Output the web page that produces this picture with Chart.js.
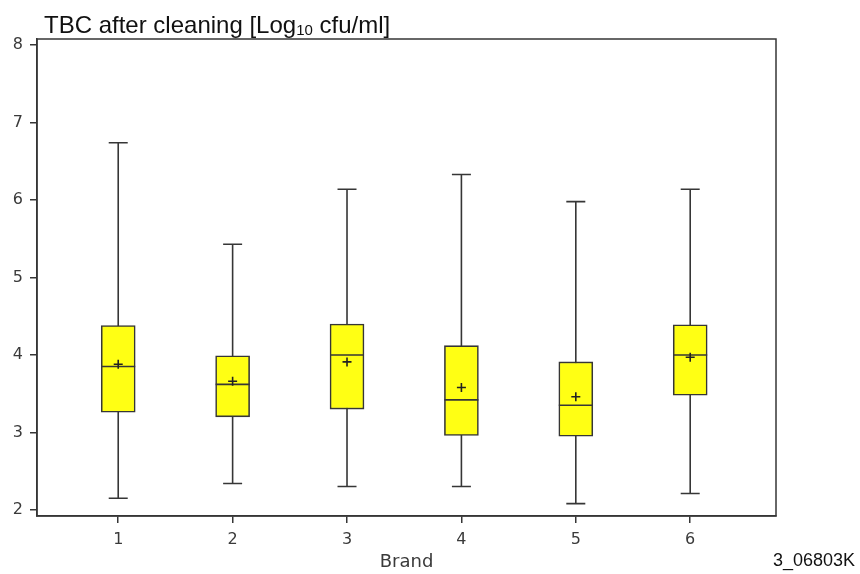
<!DOCTYPE html>
<html>
<head>
<meta charset="utf-8">
<title>TBC after cleaning</title>
<script src="https://cdn.jsdelivr.net/npm/chart.js@4/dist/chart.umd.min.js"></script>
<style>
  html, body { margin: 0; padding: 0; background: #fff; }
  canvas { display: block; }
</style>
</head>
<body>
<canvas id="boxChart" width="860" height="574"></canvas>
<script>
// Box summary per brand (log10 cfu/ml)
const brands = [1, 2, 3, 4, 5, 6];
const whiskerLow = [2.15, 2.34, 2.30, 2.30, 2.08, 2.21];
const q1 = [3.26, 3.20, 3.30, 2.96, 2.95, 3.48];
const median = [3.85, 3.62, 4.00, 3.42, 3.35, 4.00];
const mean = [3.88, 3.66, 3.91, 3.58, 3.46, 3.97];
const q3 = [4.38, 3.99, 4.40, 4.12, 3.91, 4.39];
const whiskerHigh = [6.74, 5.43, 6.14, 6.33, 5.98, 6.14];
const yTicks = [2, 3, 4, 5, 6, 7, 8];

const lineColor = "#363636";
const boxWidth = 34;
const capWidth = 19;

// whiskers behind the boxes, medians on top of them, frame and texts last
const boxParts = {
  id: "boxParts",
  beforeDatasetsDraw(chart) {
    const { ctx, scales: { x, y } } = chart;
    ctx.save();
    ctx.strokeStyle = lineColor;
    ctx.lineWidth = 1.6;
    brands.forEach((b, i) => {
      const px = x.getPixelForValue(b);
      const top = y.getPixelForValue(whiskerHigh[i]);
      const bot = y.getPixelForValue(whiskerLow[i]);
      ctx.beginPath();
      ctx.moveTo(px, top);
      ctx.lineTo(px, bot);
      ctx.moveTo(px - capWidth / 2, top);
      ctx.lineTo(px + capWidth / 2, top);
      ctx.moveTo(px - capWidth / 2, bot);
      ctx.lineTo(px + capWidth / 2, bot);
      ctx.stroke();
    });
    ctx.restore();
  },
  afterDatasetDraw(chart, args) {
    if (args.index !== 0) return;
    const { ctx, scales: { x, y } } = chart;
    ctx.save();
    ctx.strokeStyle = lineColor;
    ctx.lineWidth = 1.6;
    brands.forEach((b, i) => {
      const px = x.getPixelForValue(b);
      const py = y.getPixelForValue(median[i]);
      ctx.beginPath();
      ctx.moveTo(px - boxWidth / 2, py);
      ctx.lineTo(px + boxWidth / 2, py);
      ctx.stroke();
    });
    ctx.restore();
  },
  afterDraw(chart) {
    const { ctx, chartArea: a } = chart;
    ctx.save();
    ctx.strokeStyle = lineColor;
    ctx.lineWidth = 1.5;
    ctx.strokeRect(a.left, a.top, a.right - a.left, a.bottom - a.top);

    // title with subscript 10
    ctx.fillStyle = "#111";
    ctx.textBaseline = "alphabetic";
    ctx.textAlign = "left";
    let tx = 44;
    const ty = 33;
    ctx.font = "24px 'Liberation Sans', Arial, sans-serif";
    const part1 = "TBC after cleaning [Log";
    ctx.fillText(part1, tx, ty);
    tx += ctx.measureText(part1).width;
    ctx.font = "15px 'Liberation Sans', Arial, sans-serif";
    ctx.fillText("10", tx, ty + 2);
    tx += ctx.measureText("10").width;
    ctx.font = "24px 'Liberation Sans', Arial, sans-serif";
    ctx.fillText(" cfu/ml]", tx, ty);

    // figure code
    ctx.font = "18px 'Liberation Sans', Arial, sans-serif";
    ctx.textAlign = "right";
    ctx.fillText("3_06803K", 855, 566);
    ctx.restore();
  }
};

const ctx = document.getElementById("boxChart").getContext("2d");

new Chart(ctx, {
  type: "bar",
  data: {
    datasets: [
      {
        type: "bar",
        order: 2,
        data: brands.map((b, i) => ({ x: b, y: [q1[i], q3[i]] })),
        backgroundColor: "#ffff14",
        borderColor: lineColor,
        borderWidth: 1.6,
        borderSkipped: false,
        barThickness: boxWidth
      },
      {
        type: "scatter",
        order: 1,
        data: brands.map((b, i) => ({ x: b, y: mean[i] })),
        pointStyle: "cross",
        pointRadius: 4.5,
        borderColor: "#222",
        borderWidth: 1.6
      }
    ]
  },
  options: {
    responsive: false,
    animation: false,
    events: [],
    layout: { padding: { top: 39, right: 84, left: 0, bottom: 0 } },
    plugins: {
      legend: { display: false },
      tooltip: { enabled: false }
    },
    scales: {
      x: {
        type: "linear",
        min: 0.29,
        max: 6.75,
        offset: false,
        afterFit: (s) => { s.height = 58; },
        afterBuildTicks: (s) => { s.ticks = brands.map((v) => ({ value: v })); },
        grid: { drawOnChartArea: false, drawTicks: true, tickLength: 7, color: lineColor, lineWidth: 1.5, offset: false },
        border: { display: true, color: lineColor, width: 1.5 },
        ticks: {
          padding: 7,
          maxRotation: 0,
          autoSkip: false,
          color: "#3a3a3a",
          font: { family: "'DejaVu Sans', sans-serif", size: 16 }
        },
        title: {
          display: true,
          text: "Brand",
          color: "#3a3a3a",
          font: { family: "'DejaVu Sans', sans-serif", size: 18 },
          padding: { top: 0, bottom: 1 }
        }
      },
      y: {
        type: "linear",
        min: 1.92,
        max: 8.08,
        afterFit: (s) => { s.width = 37; },
        afterBuildTicks: (s) => { s.ticks = yTicks.map((v) => ({ value: v })); },
        grid: { drawOnChartArea: false, drawTicks: true, tickLength: 7, color: lineColor, lineWidth: 1.5 },
        border: { display: true, color: lineColor, width: 1.5 },
        ticks: {
          padding: 7,
          color: "#3a3a3a",
          font: { family: "'DejaVu Sans', sans-serif", size: 16 }
        }
      }
    }
  },
  plugins: [boxParts]
});
</script>
</body>
</html>
